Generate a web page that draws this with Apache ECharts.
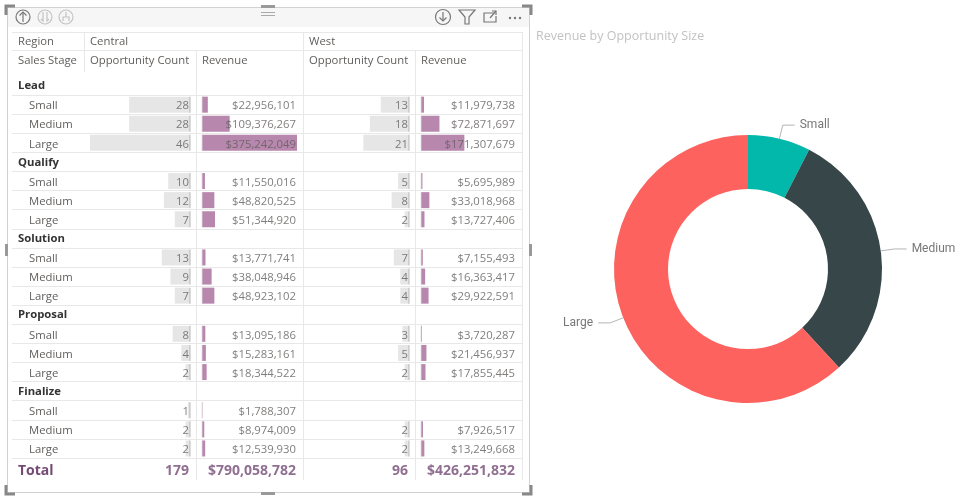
<!DOCTYPE html>
<html lang="en">
<head>
<meta charset="utf-8">
<title>Opportunity matrix</title>
<script src="https://cdn.jsdelivr.net/npm/echarts@6/dist/echarts.min.js"></script>
<style>
  html, body { margin: 0; padding: 0; background: #fff; }
  #main { width: 980px; height: 500px; }
</style>
</head>
<body>
<div id="main"></div>
<script>
var stages = ['Lead', 'Qualify', 'Solution', 'Proposal', 'Finalize'];
var sizes = ['Small', 'Medium', 'Large'];
var centralCount = [28, 28, 46, 10, 12, 7, 13, 9, 7, 8, 4, 2, 1, 2, 2];
var centralRevenue = [22956101, 109376267, 375242049, 11550016, 48820525, 51344920, 13771741, 38048946, 48923102,
    13095186, 15283161, 18344522, 1788307, 8974009, 12539930];
var westCount = [13, 18, 21, 5, 8, 2, 7, 4, 4, 3, 5, 2, null, 2, 2];
var westRevenue = [11979738, 72871697, 171307679, 5695989, 33018968, 13727406, 7155493, 16363417, 29922591,
    3720287, 21456937, 17855445, null, 7926517, 13249668];

var FONT = '"Segoe UI", "Open Sans", sans-serif';
var FS = 11.3;
var TXT = '#605e5c';
var PURPLE = '#744b75';
var LINE = '#e8e8e8';

// table layout
var ROW_H = 19.1;
var BODY_TOP = 76;
var rowLabels = [], rowKind = [];
stages.forEach(function (s) {
    rowLabels.push(s); rowKind.push('group');
    sizes.forEach(function (z) { rowLabels.push(z); rowKind.push('item'); });
});
rowLabels.push('Total'); rowKind.push('total');
var NROWS = rowLabels.length;
var BODY_H = NROWS * ROW_H;

// spread a 15-value column onto the 21 table rows
function toRows(arr) {
    var out = [], k = 0;
    rowKind.forEach(function (kind) {
        out.push(kind === 'item' ? arr[k++] : null);
    });
    return out;
}
function sum(arr) {
    return arr.reduce(function (a, b) { return a + (b || 0); }, 0);
}
function money(v) { return '$' + v.toLocaleString('en-US'); }
function plain(v) { return String(v); }

var maxCount = Math.max.apply(null, centralCount.concat(westCount.filter(function (v) { return v != null; })));
var maxRevenue = Math.max.apply(null, centralRevenue.concat(westRevenue.filter(function (v) { return v != null; })));

// columns: grid 1..4
var columns = [
    { left: 90, width: 100, vals: centralCount, max: maxCount, inverse: true, color: '#e6e6e6', fmt: plain },
    { left: 202, width: 95, vals: centralRevenue, max: maxRevenue, inverse: false, color: '#b887ad', fmt: money },
    { left: 309, width: 100, vals: westCount, max: maxCount, inverse: true, color: '#e6e6e6', fmt: plain },
    { left: 421, width: 95, vals: westRevenue, max: maxRevenue, inverse: false, color: '#b887ad', fmt: money }
];

var grids = [{ left: 12, top: BODY_TOP, width: 510, height: BODY_H }];
var xAxes = [{ gridIndex: 0, type: 'value', show: false }];
var yAxes = [{
    gridIndex: 0, type: 'category', inverse: true, data: rowLabels,
    axisLine: { show: false }, axisTick: { show: false },
    axisLabel: {
        interval: 0, align: 'left', margin: -6, fontFamily: FONT,
        formatter: function (v, i) {
            var k = rowKind[i];
            return '{' + (k === 'group' ? 'g' : k === 'total' ? 't' : 's') + '|' + v + '}';
        },
        rich: {
            g: { fontFamily: FONT, fontSize: FS, fontWeight: 'bold', color: '#333', padding: [1, 0, 0, 0] },
            s: { fontFamily: FONT, fontSize: FS, color: TXT, padding: [3, 0, 0, 11] },
            t: { fontFamily: FONT, fontSize: 14, fontWeight: 'bold', color: PURPLE, padding: [6, 0, 0, 0] }
        }
    },
    splitLine: { show: true, showMinLine: false, showMaxLine: false, lineStyle: { color: LINE } }
}];
var series = [];

columns.forEach(function (c, n) {
    var gi = n + 1;
    grids.push({ left: c.left, top: BODY_TOP, width: c.width, height: BODY_H });
    xAxes.push({ gridIndex: gi, type: 'value', min: 0, max: c.max, inverse: c.inverse, show: false });
    yAxes.push({ gridIndex: gi, type: 'category', inverse: true, data: rowLabels, show: false });
    var rows = toRows(c.vals);
    series.push({
        type: 'bar', xAxisIndex: gi, yAxisIndex: gi, silent: true,
        barWidth: 16, itemStyle: { color: c.color }, data: rows
    });
    // bar axis ticks
    var ticks = [];
    rows.forEach(function (v, i) { if (v != null) ticks.push([0, i]); });
    series.push({
        type: 'scatter', xAxisIndex: gi, yAxisIndex: gi, silent: true,
        symbol: 'rect', symbolSize: [1, 16],
        itemStyle: { color: c.inverse ? '#a8a8a8' : '#dedede' }, data: ticks
    });
    // value text at the right edge of the cell
    var edge = c.inverse ? 0 : c.max;
    var labels = [];
    rows.forEach(function (v, i) {
        if (v != null) labels.push({ value: [edge, i], text: c.fmt(v) });
    });
    labels.push({
        value: [edge, NROWS - 1], text: c.fmt(sum(c.vals)),
        label: { fontSize: 14, fontWeight: 'bold', color: PURPLE, offset: [0, 3] }
    });
    series.push({
        type: 'scatter', xAxisIndex: gi, yAxisIndex: gi, silent: true, symbolSize: 0,
        label: {
            show: true, position: 'left', distance: 1, offset: [0, 1.5],
            fontFamily: FONT, fontSize: FS, color: TXT,
            formatter: function (p) { return p.data.text; }
        },
        data: labels
    });
});

// donut: revenue by size over both regions
var sizeRevenue = sizes.map(function (z, j) {
    var t = 0;
    for (var i = j; i < centralRevenue.length; i += 3) t += (centralRevenue[i] || 0) + (westRevenue[i] || 0);
    return t;
});
var sizeColors = ['#01b8aa', '#374649', '#fd625e'];
series.push({
    type: 'pie', center: [748, 269], radius: [80, 134], silent: true,
    startAngle: 90, clockwise: true,
    label: { color: '#777', fontSize: 12, fontFamily: 'Roboto, sans-serif' },
    labelLine: { length: 14, length2: 12, lineStyle: { color: '#b5b5b5', width: 1 } },
    data: sizes.map(function (z, j) {
        return { name: z, value: sizeRevenue[j], itemStyle: { color: sizeColors[j] } };
    })
});

// header texts and frame
function txt(x, y, s, extra) {
    return {
        type: 'text', x: x, y: y, silent: true,
        style: Object.assign({ text: s, fill: TXT, font: FS + 'px ' + FONT, textVerticalAlign: 'middle' }, extra || {})
    };
}
function vline(x, y1, y2, color) {
    return { type: 'line', silent: true, shape: { x1: x, y1: y1, x2: x, y2: y2 }, style: { stroke: color || LINE, lineWidth: 1 } };
}
function hline(y, x1, x2, color) {
    return { type: 'line', silent: true, shape: { x1: x1, y1: y, x2: x2, y2: y }, style: { stroke: color || LINE, lineWidth: 1 } };
}
var tableBottom = BODY_TOP + BODY_H + 3;
var graphics = [
    { type: 'rect', silent: true, shape: { x: 7.5, y: 7.5, width: 522, height: 485 }, style: { fill: '#fff', stroke: '#d2d2d2' } },
    { type: 'rect', silent: true, shape: { x: 8, y: 8, width: 521, height: 19 }, style: { fill: '#f6f6f6' } },
    hline(32.5, 12, 522), hline(50.5, 12, 522),
    vline(84.5, 32, 72), vline(196.5, 50, tableBottom), vline(303.5, 32, tableBottom),
    vline(415.5, 50, tableBottom), vline(522.5, 32, tableBottom),
    txt(18, 42, 'Region'), txt(90, 42, 'Central'), txt(309, 42, 'West'),
    txt(18, 61, 'Sales Stage'), txt(90, 61, 'Opportunity Count'), txt(202, 61, 'Revenue'),
    txt(309, 61, 'Opportunity Count'), txt(421, 61, 'Revenue'),
    // corner and side handles
    { type: 'polyline', silent: true, shape: { points: [[6, 15], [6, 6], [15, 6]] }, style: { stroke: '#888', lineWidth: 3, fill: null } },
    { type: 'polyline', silent: true, shape: { points: [[522, 6], [531, 6], [531, 15]] }, style: { stroke: '#888', lineWidth: 3, fill: null } },
    { type: 'polyline', silent: true, shape: { points: [[6, 485], [6, 494], [15, 494]] }, style: { stroke: '#888', lineWidth: 3, fill: null } },
    { type: 'polyline', silent: true, shape: { points: [[522, 494], [531, 494], [531, 485]] }, style: { stroke: '#888', lineWidth: 3, fill: null } },
    { type: 'rect', silent: true, shape: { x: 261, y: 5, width: 14, height: 3 }, style: { fill: '#999' } },
    hline(12.5, 261, 275, '#aaa'), hline(15.5, 261, 275, '#aaa'),
    { type: 'rect', silent: true, shape: { x: 261, y: 492, width: 14, height: 3 }, style: { fill: '#999' } },
    { type: 'rect', silent: true, shape: { x: 5, y: 244, width: 3, height: 12 }, style: { fill: '#999' } },
    { type: 'rect', silent: true, shape: { x: 529, y: 244, width: 3, height: 12 }, style: { fill: '#999' } },
    // toolbar icons, left
    { type: 'circle', silent: true, shape: { cx: 23, cy: 17, r: 7 }, style: { stroke: '#777', fill: null, lineWidth: 1.2 } },
    { type: 'polyline', silent: true, shape: { points: [[23, 22], [23, 12]] }, style: { stroke: '#777', lineWidth: 1.2, fill: null } },
    { type: 'polyline', silent: true, shape: { points: [[19.5, 15.5], [23, 12], [26.5, 15.5]] }, style: { stroke: '#777', lineWidth: 1.2, fill: null } },
    { type: 'circle', silent: true, shape: { cx: 45, cy: 17, r: 7 }, style: { stroke: '#c4c4c4', fill: null, lineWidth: 1.2 } },
    { type: 'polyline', silent: true, shape: { points: [[43, 12], [43, 21], [41, 19]] }, style: { stroke: '#c4c4c4', lineWidth: 1.2, fill: null } },
    { type: 'polyline', silent: true, shape: { points: [[47, 12], [47, 21], [49, 19]] }, style: { stroke: '#c4c4c4', lineWidth: 1.2, fill: null } },
    { type: 'circle', silent: true, shape: { cx: 66, cy: 17, r: 7 }, style: { stroke: '#c4c4c4', fill: null, lineWidth: 1.2 } },
    { type: 'polyline', silent: true, shape: { points: [[63, 21], [63, 17], [69, 17], [69, 21]] }, style: { stroke: '#c4c4c4', lineWidth: 1.2, fill: null } },
    { type: 'polyline', silent: true, shape: { points: [[66, 12], [66, 17]] }, style: { stroke: '#c4c4c4', lineWidth: 1.2, fill: null } },
    // toolbar icons, right
    { type: 'circle', silent: true, shape: { cx: 443, cy: 17, r: 7.5 }, style: { stroke: '#777', fill: null, lineWidth: 1.2 } },
    { type: 'polyline', silent: true, shape: { points: [[443, 12], [443, 21]] }, style: { stroke: '#777', lineWidth: 1.2, fill: null } },
    { type: 'polyline', silent: true, shape: { points: [[439.5, 17.5], [443, 21], [446.5, 17.5]] }, style: { stroke: '#777', lineWidth: 1.2, fill: null } },
    { type: 'polygon', silent: true, shape: { points: [[459, 10], [475, 10], [469, 17], [469, 24], [465, 24], [465, 17]] }, style: { stroke: '#777', fill: null, lineWidth: 1.2 } },
    { type: 'polyline', silent: true, shape: { points: [[494, 13], [484, 13], [484, 22], [496, 22], [496, 16]] }, style: { stroke: '#777', fill: null, lineWidth: 1.2 } },
    { type: 'polyline', silent: true, shape: { points: [[490, 18], [496, 11]] }, style: { stroke: '#777', fill: null, lineWidth: 1.2 } },
    { type: 'polyline', silent: true, shape: { points: [[492, 11], [496, 11], [496, 15]] }, style: { stroke: '#777', fill: null, lineWidth: 1.2 } },
    { type: 'circle', silent: true, shape: { cx: 510, cy: 18, r: 1.2 }, style: { fill: '#777' } },
    { type: 'circle', silent: true, shape: { cx: 515, cy: 18, r: 1.2 }, style: { fill: '#777' } },
    { type: 'circle', silent: true, shape: { cx: 520, cy: 18, r: 1.2 }, style: { fill: '#777' } },
    // donut title
    txt(536, 36, 'Revenue by Opportunity Size', { fill: '#c2c2c2', font: '12.5px ' + FONT })
];

var myChart = echarts.init(document.getElementById('main'), null, { renderer: 'canvas' });
myChart.setOption({
    backgroundColor: '#fff',
    animation: false,
    grid: grids,
    xAxis: xAxes,
    yAxis: yAxes,
    series: series,
    graphic: { elements: graphics }
});
</script>
</body>
</html>
